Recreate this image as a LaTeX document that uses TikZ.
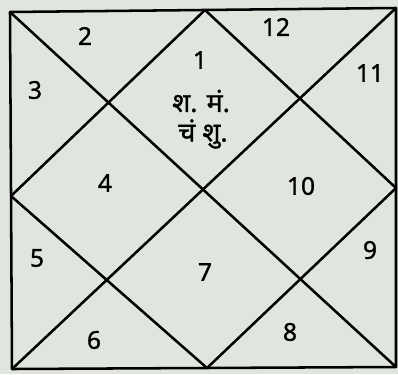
\documentclass[tikz,border=0pt]{standalone}
\usepackage{fontspec}
\setmainfont{Noto Sans}
\newfontfamily\numfont[FakeBold=1.2]{Noto Sans}
\newfontfamily\devfont[Script=Devanagari,FakeBold=1.2]{Noto Sans}
\usetikzlibrary{positioning}
\definecolor{paper}{RGB}{224,230,222}

\begin{document}
\begin{tikzpicture}[x=0.025cm,y=-0.025cm,
    ln/.style={line width=1.8pt,line cap=round,line join=round},
    h/.style={font=\numfont\fontsize{17.5}{20}\selectfont,inner sep=1pt},
    pl/.style={font=\devfont\fontsize{19}{22}\selectfont,inner sep=1pt}]
  \fill[paper] (0,0) rectangle (398,374);
  \useasboundingbox (0,0) rectangle (398,374);
  % corners and midpoints
  \coordinate (tl) at (10,12);
  \coordinate (tr) at (396,8);
  \coordinate (br) at (396,367);
  \coordinate (bl) at (12,369);
  \coordinate (tm) at (205,10);
  \coordinate (rm) at (396,188);
  \coordinate (bm) at (207,368);
  \coordinate (lm) at (11,196);
  \draw[ln] (tl)--(tr)--(br)--(bl)--cycle;
  \draw[ln] (tl)--(br);
  \draw[ln] (tr)--(bl);
  \draw[ln] (tm)--(rm)--(bm)--(lm)--cycle;
  % houses
  \node[h] (h1) at (200,60) {1};
  \node[h] (h2) at (85,36) {2};
  \node[h] (h3) at (35,90) {3};
  \node[h] (h4) at (105,183) {4};
  \node[h] (h5) at (37,258) {5};
  \node[h] (h6) at (94,340) {6};
  \node[h] (h7) at (205,272) {7};
  \node[h] (h8) at (290,332) {8};
  \node[h] (h9) at (370,250) {9};
  \node[h] (h10) at (301,186) {10};
  \node[h] (h11) at (370,73) {11};
  \node[h] (h12) at (276,27) {12};
  % planets
  \node[pl] (p1) at (201,101) {श. मं.};
  \node[pl] (p2) at (203,134) {चं शु.};
\end{tikzpicture}
\end{document}
